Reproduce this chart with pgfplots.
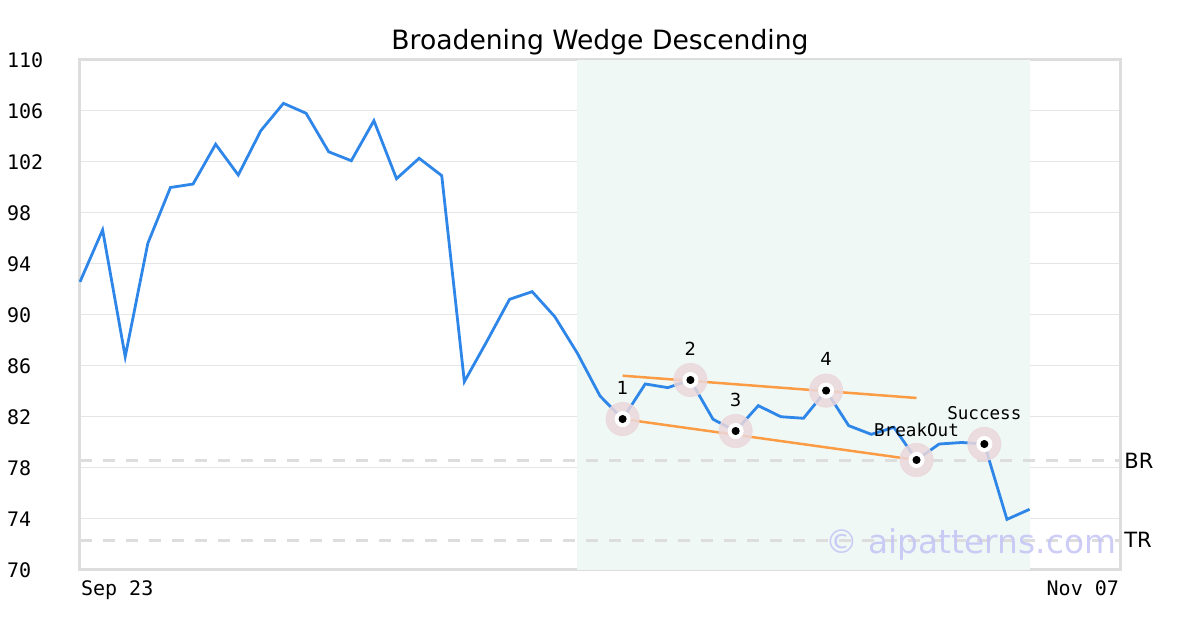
\documentclass[border=0pt]{standalone}
\usepackage{pgfplots}
\pgfplotsset{compat=1.18}
\usepackage{fontspec}
\setmainfont{DejaVu Sans}
\newfontfamily\mono{DejaVu Sans Mono}
\definecolor{price}{HTML}{2E86E8}
\definecolor{wedge}{HTML}{FB9C45}
\definecolor{shade}{HTML}{EFF8F4}
\definecolor{frame}{HTML}{DDDDDD}
\definecolor{gridc}{HTML}{E6E6E6}
\definecolor{halo}{HTML}{EBD8DC}
\definecolor{wm}{HTML}{C4C4F6}
\begin{document}
\begin{tikzpicture}
\path[use as bounding box] (-40pt,-30pt) rectangle (560pt,285pt);
\begin{axis}[
  at={(0,0)}, anchor=south west,
  scale only axis, width=520pt, height=255pt,
  xmin=0, xmax=46, ymin=70, ymax=110,
  axis line style={frame, line width=1.5pt},
  ytick={70,74,...,110},
  ymajorgrids, grid style={gridc, line width=0.5pt},
  major tick length=0pt,
  xtick={0}, xticklabels={Sep 23},
  extra x ticks={46}, extra x tick labels={Nov 07},
  extra x tick style={xticklabel style={anchor=north east, xshift=6pt}, grid=none},
  xticklabel style={anchor=north west, xshift=-3pt, font=\mono\fontsize{10pt}{12pt}\selectfont, yshift=-2pt},
  yticklabel style={anchor=west, xshift=-40pt, font=\mono\fontsize{10pt}{12pt}\selectfont},
  /pgf/number format/assume math mode=true,
  title={Broadening Wedge Descending},
  title style={font=\fontsize{13.3pt}{15pt}\selectfont, yshift=-7pt},
  clip=false,
]
\addplot[draw=none, fill=shade] coordinates {(22,70) (42,70) (42,110) (22,110)} -- cycle;
\addplot[frame, line width=1.5pt, dash pattern=on 6pt off 5.5pt] coordinates {(0,78.55) (46,78.55)};
\addplot[frame, line width=1.5pt, dash pattern=on 6pt off 5.5pt] coordinates {(0,72.35) (46,72.35)};
\addplot[price, line width=1.4pt, mark=none] coordinates {
(0,92.6) (1,96.67) (2,86.73) (3,95.62) (4,100.0) (5,100.27) (6,103.39) (7,100.98)
(8,104.46) (9,106.6) (10,105.82) (11,102.8) (12,102.1) (13,105.24) (14,100.69) (15,102.29)
(16,100.93) (17,84.77) (18,87.95) (19,91.23) (20,91.83) (21,89.87) (22,87.0) (23,83.65)
(24,81.84) (25,84.59) (26,84.3) (27,84.9) (28,81.82) (29,80.9) (30,82.89) (31,82.02)
(32,81.9) (33,84.07) (34,81.32) (35,80.64) (36,81.19) (37,78.63) (38,79.88) (39,80.0)
(40,79.88) (41,73.97) (42,74.76)};
\addplot[wedge, line width=1.25pt] coordinates {(24,85.24) (37,83.49)};
\addplot[wedge, line width=1.25pt] coordinates {(24,81.84) (37,78.63)};
\addplot[only marks, mark=*, color=halo, mark size=8.3pt, opacity=0.85] coordinates {
(24,81.84) (27,84.9) (29,80.9) (33,84.07) (37,78.63) (40,79.88)};
\addplot[only marks, mark=*, color=white, mark size=3.8pt] coordinates {
(24,81.84) (27,84.9) (29,80.9) (33,84.07) (37,78.63) (40,79.88)};
\addplot[only marks, mark=*, color=black, mark size=1.8pt] coordinates {
(24,81.84) (27,84.9) (29,80.9) (33,84.07) (37,78.63) (40,79.88)};
\node[font=\fontsize{9pt}{10pt}\selectfont] at (axis cs:24,84.27) {1};
\node[font=\fontsize{9pt}{10pt}\selectfont] at (axis cs:27,87.33) {2};
\node[font=\fontsize{9pt}{10pt}\selectfont] at (axis cs:29,83.33) {3};
\node[font=\fontsize{9pt}{10pt}\selectfont] at (axis cs:33,86.55) {4};
\node[font=\mono\fontsize{8.8pt}{10pt}\selectfont] at (axis cs:37,80.98) {BreakOut};
\node[font=\mono\fontsize{8.8pt}{10pt}\selectfont] at (axis cs:40,82.31) {Success};
\node[anchor=west, font=\fontsize{10.5pt}{12pt}\selectfont, inner sep=0pt, xshift=2pt] at (axis cs:46,78.55) {BR};
\node[anchor=west, font=\fontsize{10.5pt}{12pt}\selectfont, inner sep=0pt, xshift=2pt] at (axis cs:46,72.35) {TR};
\node[font=\fontsize{16.4pt}{18pt}\selectfont, text=wm, text opacity=0.85] at (axis cs:39.4,72.0) {© aipatterns.com};
\end{axis}
\end{tikzpicture}
\end{document}
